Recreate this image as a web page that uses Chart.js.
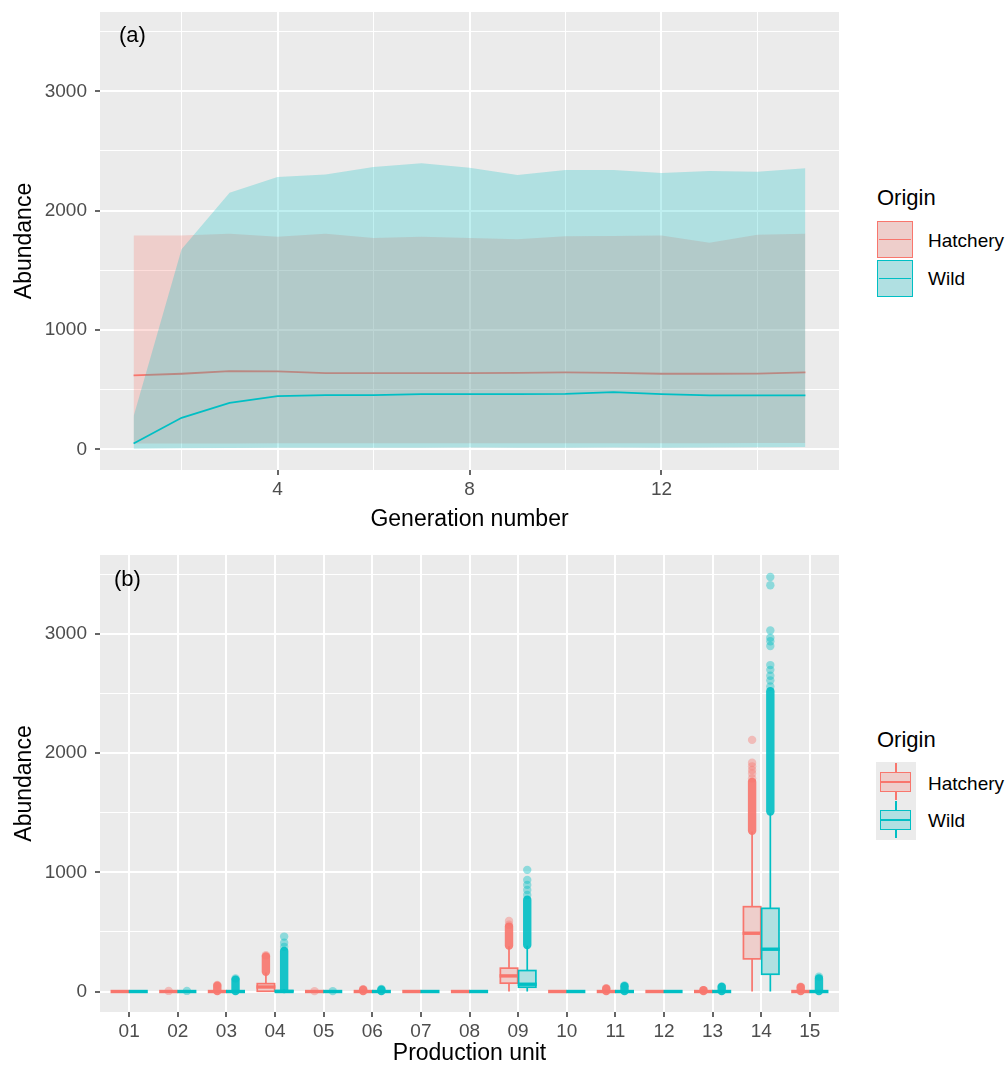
<!DOCTYPE html>
<html>
<head>
<meta charset="utf-8">
<script src="https://cdn.jsdelivr.net/npm/chart.js@4.4.1/dist/chart.umd.min.js"></script>
<style>
  body { margin: 0; background: #fff; font-family: "Liberation Sans", Arial, sans-serif; }
  #wrap { position: relative; width: 1008px; height: 1070px; overflow: hidden; }
  canvas { position: absolute; left: 0; }
  .txt { position: absolute; white-space: nowrap; line-height: 1; color: #000; }
  .abs { position: absolute; box-sizing: border-box; }
</style>
</head>
<body>
<div id="wrap">
  <canvas id="chartA" width="850" height="558" style="top:-18px"></canvas>
  <canvas id="chartB" width="850" height="545" style="top:525px"></canvas>

  <div class="txt" style="left:119px; top:24px; font-size:22px;">(a)</div>
  <div class="txt" style="left:114px; top:568px; font-size:22px;">(b)</div>

  <!-- legend (a) -->
  <div class="txt" style="left:877px; top:187px; font-size:22px;">Origin</div>
  <div class="abs" style="left:877px; top:221px; width:36px; height:37px; border:1.7px solid #F8766D; background:rgb(238,206,203);"></div>
  <div class="abs" style="left:879px; top:238.5px; width:32px; height:1.8px; background:#F8766D;"></div>
  <div class="abs" style="left:877px; top:260px; width:36px; height:37px; border:1.7px solid #00BFC4; background:rgb(176,224,226);"></div>
  <div class="abs" style="left:879px; top:277.5px; width:32px; height:1.8px; background:#00BFC4;"></div>
  <div class="txt" style="left:928px; top:231px; font-size:19px;">Hatchery</div>
  <div class="txt" style="left:928px; top:268.5px; font-size:19px;">Wild</div>

  <!-- legend (b) -->
  <div class="txt" style="left:877px; top:729px; font-size:22px;">Origin</div>
  <div class="abs" style="left:876px; top:762px; width:40px; height:78px; background:#EBEBEB;"></div>
  <div class="abs" style="left:895px; top:763px; width:1.7px; height:9px; background:#F8766D;"></div>
  <div class="abs" style="left:895px; top:791px; width:1.7px; height:9px; background:#F8766D;"></div>
  <div class="abs" style="left:880px; top:772px; width:31px; height:20px; border:1.7px solid #F8766D; background:rgb(238,206,203);"></div>
  <div class="abs" style="left:881px; top:781px; width:29px; height:2px; background:#F8766D;"></div>
  <div class="abs" style="left:895px; top:801px; width:1.7px; height:9px; background:#00BFC4;"></div>
  <div class="abs" style="left:895px; top:829px; width:1.7px; height:9px; background:#00BFC4;"></div>
  <div class="abs" style="left:880px; top:810px; width:31px; height:20px; border:1.7px solid #00BFC4; background:rgb(176,224,226);"></div>
  <div class="abs" style="left:881px; top:819px; width:29px; height:2px; background:#00BFC4;"></div>
  <div class="txt" style="left:928px; top:773.5px; font-size:19px;">Hatchery</div>
  <div class="txt" style="left:928px; top:810.5px; font-size:19px;">Wild</div>
</div>

<script>
// ---- panel (a): abundance by generation ----
const generations = [1, 2, 3, 4, 5, 6, 7, 8, 9, 10, 11, 12, 13, 14, 15];
const hatcheryMean  = [620, 634, 656, 654, 640, 640, 640, 640, 642, 645, 642, 634, 634, 636, 645];
const hatcheryUpper = [1793, 1793, 1807, 1782, 1807, 1771, 1782, 1771, 1760, 1785, 1788, 1793, 1732, 1799, 1807];
const hatcheryLower = [50, 50, 50, 52, 52, 52, 52, 52, 52, 52, 52, 52, 52, 54, 54];
const wildMean  = [50, 265, 391, 447, 455, 455, 464, 464, 464, 466, 480, 464, 453, 453, 453];
const wildUpper = [279, 1676, 2151, 2282, 2304, 2366, 2397, 2360, 2299, 2341, 2341, 2316, 2332, 2327, 2355];
const wildLower = [5, 10, 12, 14, 14, 15, 15, 16, 15, 15, 16, 15, 16, 18, 20];

// ---- panel (b): abundance by production unit ----
const units = ['01', '02', '03', '04', '05', '06', '07', '08', '09', '10', '11', '12', '13', '14', '15'];
const hatcheryQ1     = [0, 0, 0, 2, 0, 0, 0, 0, 70, 0, 0, 0, 0, 274, 0];
const hatcheryMedian = [0, 0, 0, 38, 0, 0, 0, 0, 131, 0, 0, 0, 0, 489, 0];
const hatcheryQ3     = [0, 0, 0, 66, 0, 0, 0, 0, 196, 0, 0, 0, 0, 712, 0];
const hatcheryLow    = [0, 0, 0, 0, 0, 0, 0, 0, 0, 0, 0, 0, 0, 0, 0];
const hatcheryHigh   = [0, 0, 0, 160, 0, 0, 0, 0, 380, 0, 0, 0, 0, 1343, 0];
const hatcheryDense  = [null, null, [3, 48], [165, 295], null, [3, 16], null, null, [385, 545], null, [3, 24], null, [3, 10], [1350, 1760], [3, 36]];
const hatcheryOutliers = [[], [5], [55], [305], [3], [20], [], [], [560, 592], [], [28], [], [12], [1790, 1830, 1860, 1890, 1920, 2112], [40]];

const wildQ1     = [0, 0, 0, 0, 0, 0, 0, 0, 36, 0, 0, 0, 0, 145, 0];
const wildMedian = [0, 0, 0, 0, 0, 0, 0, 0, 61, 0, 0, 0, 0, 355, 0];
const wildQ3     = [0, 0, 0, 8, 0, 0, 0, 0, 176, 0, 0, 0, 0, 698, 0];
const wildLow    = [0, 0, 0, 0, 0, 0, 0, 0, 0, 0, 0, 0, 0, 0, 0];
const wildHigh   = [0, 0, 0, 20, 0, 0, 0, 0, 385, 0, 0, 0, 0, 1497, 0];
const wildDense  = [null, null, [3, 100], [20, 340], null, [3, 16], null, null, [390, 770], null, [3, 45], null, [3, 38], [1510, 2520], [3, 110]];
const wildOutliers = [[], [5], [110], [375, 410, 461], [3], [22], [], [], [810, 852, 895, 937, 1021], [], [50], [], [42],
  [2560, 2610, 2650, 2700, 2740, 2900, 2940, 2970, 3030, 3410, 3480], [125]];

const HATCH = '#F8766D', WILD = '#00BFC4';
const HATCH_FILL = 'rgba(248,118,109,0.25)', WILD_FILL = 'rgba(0,191,196,0.25)';
const DODGE = 0.1875, BOX_WIDTH = 0.356;

Chart.defaults.font.family = '"Liberation Sans", Arial, sans-serif';
Chart.defaults.color = '#4D4D4D';

const panelBackground = {
  id: 'panelBackground',
  beforeDraw(chart) {
    const { ctx, chartArea: a } = chart;
    ctx.save();
    ctx.fillStyle = '#EBEBEB';
    ctx.fillRect(a.left, a.top, a.right - a.left, a.bottom - a.top);
    ctx.restore();
  }
};

function yAxis() {
  return {
    min: -172,
    max: 3664,
    afterBuildTicks: s => { s.ticks = [0, 500, 1000, 1500, 2000, 2500, 3000, 3500].map(v => ({ value: v })); },
    afterFit: s => { s.width = 100; },
    border: { display: false },
    grid: {
      color: '#FFFFFF',
      lineWidth: c => (c.tick && c.tick.value % 1000 === 0) ? 2 : 1,
      tickColor: c => (c.tick && c.tick.value % 1000 === 0) ? '#333333' : 'rgba(0,0,0,0)',
      tickLength: 5,
      tickWidth: 1.5
    },
    ticks: {
      padding: 8,
      font: { size: 19 },
      color: '#4D4D4D',
      callback: v => (v % 1000 === 0 ? String(v) : '')
    },
    title: {
      display: true,
      text: 'Abundance',
      color: '#000',
      font: { size: 23 },
      padding: { top: 11, bottom: 0 }
    }
  };
}

const pt = (xs, ys) => xs.map((x, i) => ({ x: x, y: ys[i] }));

new Chart(document.getElementById('chartA'), {
  type: 'line',
  data: {
    datasets: [
      { label: 'Hatchery upper', data: pt(generations, hatcheryUpper), fill: '+1', backgroundColor: HATCH_FILL, borderWidth: 0, pointRadius: 0, order: 4 },
      { label: 'Hatchery lower', data: pt(generations, hatcheryLower), fill: false, borderWidth: 0, pointRadius: 0, order: 4 },
      { label: 'Hatchery', data: pt(generations, hatcheryMean), fill: false, borderColor: HATCH, borderWidth: 1.8, pointRadius: 0, order: 3 },
      { label: 'Wild upper', data: pt(generations, wildUpper), fill: '+1', backgroundColor: WILD_FILL, borderWidth: 0, pointRadius: 0, order: 2 },
      { label: 'Wild lower', data: pt(generations, wildLower), fill: false, borderWidth: 0, pointRadius: 0, order: 2 },
      { label: 'Wild', data: pt(generations, wildMean), fill: false, borderColor: WILD, borderWidth: 1.8, pointRadius: 0, order: 1 }
    ]
  },
  options: {
    responsive: false,
    devicePixelRatio: 1,
    animation: false,
    layout: { padding: { top: 30, right: 11, left: 0, bottom: 0 } },
    plugins: { legend: { display: false }, tooltip: { enabled: false } },
    scales: {
      x: {
        type: 'linear',
        min: 0.3,
        max: 15.7,
        afterBuildTicks: s => { s.ticks = [2, 4, 6, 8, 10, 12, 14].map(v => ({ value: v })); },
        afterFit: s => { s.height = 70; },
        border: { display: false },
        grid: {
          color: '#FFFFFF',
          lineWidth: c => (c.tick && c.tick.value % 4 === 0) ? 2 : 1,
          tickColor: c => (c.tick && c.tick.value % 4 === 0) ? '#333333' : 'rgba(0,0,0,0)',
          tickLength: 5,
          tickWidth: 1.5
        },
        ticks: {
          padding: 3,
          autoSkip: false,
          maxRotation: 0,
          font: { size: 19 },
          color: '#4D4D4D',
          callback: v => (v % 4 === 0 ? String(v) : '')
        },
        title: {
          display: true,
          text: 'Generation number',
          color: '#000',
          font: { size: 23 },
          padding: { top: 0, bottom: 7 }
        }
      },
      y: yAxis()
    }
  },
  plugins: [panelBackground]
});

// boxes, whiskers and dense outlier runs, drawn through the chart's scales
const boxSeries = [
  { offset: -DODGE, color: HATCH, fill: HATCH_FILL, dense: 'rgba(248,118,109,0.9)',
    q1: hatcheryQ1, med: hatcheryMedian, q3: hatcheryQ3, low: hatcheryLow, high: hatcheryHigh, runs: hatcheryDense },
  { offset: DODGE, color: WILD, fill: WILD_FILL, dense: 'rgba(0,191,196,0.9)',
    q1: wildQ1, med: wildMedian, q3: wildQ3, low: wildLow, high: wildHigh, runs: wildDense }
];

const boxPlots = {
  id: 'boxPlots',
  beforeDatasetsDraw(chart) {
    const { ctx, chartArea: a } = chart;
    const x = chart.scales.x, y = chart.scales.y;
    const half = (x.getPixelForValue(BOX_WIDTH) - x.getPixelForValue(0)) / 2;
    ctx.save();
    ctx.beginPath();
    ctx.rect(a.left, a.top, a.right - a.left, a.bottom - a.top);
    ctx.clip();
    units.forEach((u, i) => {
      boxSeries.forEach(s => {
        const cx = x.getPixelForValue(i + 1 + s.offset);
        if (s.runs[i]) {
          ctx.strokeStyle = s.dense;
          ctx.lineWidth = 8.4;
          ctx.lineCap = 'round';
          ctx.beginPath();
          ctx.moveTo(cx, y.getPixelForValue(s.runs[i][0]));
          ctx.lineTo(cx, y.getPixelForValue(s.runs[i][1]));
          ctx.stroke();
        }
        ctx.lineCap = 'butt';
        ctx.strokeStyle = s.color;
        ctx.lineWidth = 1.7;
        ctx.beginPath();
        ctx.moveTo(cx, y.getPixelForValue(s.low[i]));
        ctx.lineTo(cx, y.getPixelForValue(s.q1[i]));
        ctx.moveTo(cx, y.getPixelForValue(s.q3[i]));
        ctx.lineTo(cx, y.getPixelForValue(s.high[i]));
        ctx.stroke();
        const top = y.getPixelForValue(s.q3[i]);
        const bot = y.getPixelForValue(s.q1[i]);
        ctx.fillStyle = '#EBEBEB';
        ctx.fillRect(cx - half, top, 2 * half, bot - top);
        ctx.fillStyle = s.fill;
        ctx.fillRect(cx - half, top, 2 * half, bot - top);
        ctx.strokeRect(cx - half, top, 2 * half, bot - top);
        const ym = y.getPixelForValue(s.med[i]);
        ctx.lineWidth = 3.4;
        ctx.beginPath();
        ctx.moveTo(cx - half - 0.85, ym);
        ctx.lineTo(cx + half + 0.85, ym);
        ctx.stroke();
      });
    });
    ctx.restore();
  }
};

const outlierPoints = (lists, offset) => {
  const out = [];
  lists.forEach((vals, i) => vals.forEach(v => out.push({ x: i + 1 + offset, y: v })));
  return out;
};

new Chart(document.getElementById('chartB'), {
  type: 'scatter',
  data: {
    datasets: [
      { label: 'Hatchery', data: outlierPoints(hatcheryOutliers, -DODGE), pointRadius: 4.2, pointBorderWidth: 0, pointBackgroundColor: 'rgba(248,118,109,0.4)' },
      { label: 'Wild', data: outlierPoints(wildOutliers, DODGE), pointRadius: 4.2, pointBorderWidth: 0, pointBackgroundColor: 'rgba(0,191,196,0.4)' }
    ]
  },
  options: {
    responsive: false,
    devicePixelRatio: 1,
    animation: false,
    layout: { padding: { top: 30, right: 11, left: 0, bottom: 0 } },
    plugins: { legend: { display: false }, tooltip: { enabled: false } },
    scales: {
      x: {
        type: 'linear',
        min: 0.4,
        max: 15.6,
        afterBuildTicks: s => { s.ticks = units.map((u, i) => ({ value: i + 1 })); },
        afterFit: s => { s.height = 58; },
        border: { display: false },
        grid: { color: '#FFFFFF', lineWidth: 2, tickColor: '#333333', tickLength: 5, tickWidth: 1.5 },
        ticks: {
          padding: 3,
          autoSkip: false,
          maxRotation: 0,
          font: { size: 19 },
          color: '#4D4D4D',
          callback: v => units[v - 1]
        },
        title: {
          display: true,
          text: 'Production unit',
          color: '#000',
          font: { size: 23 },
          padding: { top: 0, bottom: 3 }
        }
      },
      y: yAxis()
    }
  },
  plugins: [panelBackground, boxPlots]
});
</script>
</body>
</html>
